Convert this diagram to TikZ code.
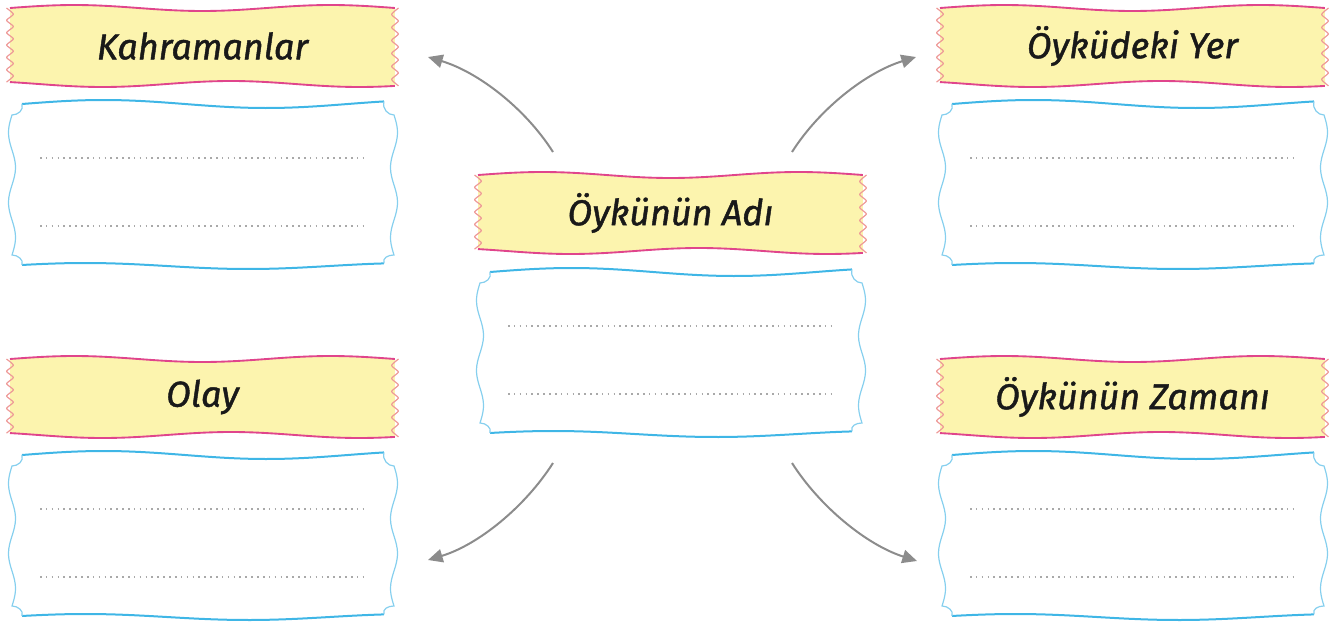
\documentclass[tikz,border=0pt]{standalone}
\usepackage{fontspec}
\setmainfont{Fira Sans}
\newfontfamily\lblfont{Fira Sans}[FakeBold=1.2]
\usetikzlibrary{arrows.meta}
\definecolor{lfill}{HTML}{FCF4AE}
\definecolor{ledge}{HTML}{E0458C}
\definecolor{lside}{HTML}{EE9A98}
\definecolor{bedge}{HTML}{3FB6E6}
\definecolor{bside}{HTML}{86CFEE}
\definecolor{arrowgray}{HTML}{8C8C8C}
\definecolor{dotgray}{HTML}{A9A9A9}
\tikzset{
  lbltext/.style={font=\lblfont\itshape\fontsize{27}{31}\selectfont, text=black!90, inner sep=0pt},
  ledgeline/.style={draw=ledge, line width=1.4pt},
  lsideline/.style={draw=lside, line width=0.9pt, line join=round},
  bedgeline/.style={draw=bedge, line width=1.5pt},
  bsideline/.style={draw=bside, line width=0.9pt},
  dotline/.style={draw=dotgray, line width=1.3pt, dash pattern=on 1.2pt off 3.2pt},
  flow/.style={draw=arrowgray, line width=1.5pt, -{Triangle[length=11pt,width=10pt]}},
}
\newcommand{\wlabel}[4]{%
 \begin{scope}[shift={(#2,#3)}]
  \fill[lfill] plot[domain=0:1,samples=50] ({\x*385},{-3*sin(\x*540)}) -- plot[domain=0:1,samples=50] ({(1-\x)*385},{76+3*sin((1-\x)*540-40)}) -- cycle;
  \draw[ledgeline] plot[domain=0:1,samples=50] ({\x*385},{-3*sin(\x*540)});
  \draw[ledgeline] plot[domain=0:1,samples=50] ({\x*385},{76+3*sin(\x*540-40)});
  \draw[lsideline] plot[smooth,tension=0.3,domain=0:1,samples=13] ({-3.5*cos(\x*2160)},{\x*74.07});
  \draw[lsideline] plot[smooth,tension=0.3,domain=0:1,samples=13] ({385+3.5*cos(\x*2160)},{\x*77.9});
  \node[lbltext] (#1) at (192.5,38) {#4};
 \end{scope}}
\newcommand{\wbody}[3]{%
 \begin{scope}[shift={(#2,#3)}]
  \draw[bedgeline] plot[domain=0:1,samples=50] ({12+\x*362},{-4*sin(\x*400)});
  \draw[bedgeline] plot[domain=0:1,samples=50] ({12+\x*362},{162+3*sin(\x*400+200)});
  \draw[bsideline] (12,0) .. controls (14,6) and (8,11) .. (2,11) -- plot[domain=0:1,samples=40] ({2-3.5*sin(\x*720)},{11+\x*140}) .. controls (8,151) and (14,156) .. (12,161);
  \draw[bsideline] (374,-2.57) .. controls (372,5) and (378,11) .. (384,11) -- plot[domain=0:1,samples=40] ({384+3.5*sin(\x*720)},{11+\x*140}) .. controls (378,151) and (372,154) .. (374,159.4);
  \coordinate (#1) at (193,81);
  \draw[dotline] (30,54) -- (357,54);
  \draw[dotline] (30,122) -- (357,122);
 \end{scope}}
\begin{document}
\begin{tikzpicture}[x=0.75pt,y=-0.75pt]
\useasboundingbox (0,0) rectangle (1343,625);
\wlabel{kah}{10}{8}{Kahramanlar}
\wbody{kahb}{10}{104}
\wlabel{olay}{10}{359}{Olay}
\wbody{olayb}{10}{455}
\wlabel{yer}{940}{8}{Öyküdeki Yer}
\wbody{yerb}{940}{104}
\wlabel{zaman}{940}{359}{Öykünün Zamanı}
\wbody{zamanb}{940}{455}
\wlabel{adi}{478}{175}{Öykünün Adı}
\wbody{adib}{478}{272}
\coordinate (a1s) at (553,152); \coordinate (a1e) at (428,57);
\coordinate (a2s) at (792,152); \coordinate (a2e) at (916,57);
\coordinate (a3s) at (553,463); \coordinate (a3e) at (428,560);
\coordinate (a4s) at (792,463); \coordinate (a4e) at (917,561);
\draw[flow] (a1s) .. controls (525,108) and (478,72) .. (a1e);
\draw[flow] (a2s) .. controls (820,108) and (867,72) .. (a2e);
\draw[flow] (a3s) .. controls (525,507) and (478,545) .. (a3e);
\draw[flow] (a4s) .. controls (820,507) and (867,545) .. (a4e);
\end{tikzpicture}
\end{document}
